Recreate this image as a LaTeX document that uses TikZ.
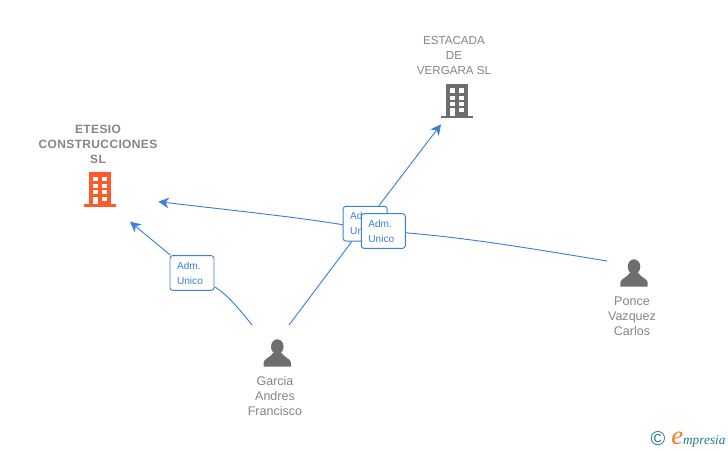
\documentclass[tikz,border=0pt]{standalone}
\usepackage{xcolor}
\usepackage{fontspec}
\setmainfont{Liberation Sans}
\newfontfamily\logofont{Liberation Serif}
\usepackage{tikz}
\usetikzlibrary{arrows.meta,backgrounds}
\definecolor{empresiaBlue}{HTML}{3B7FDD}
\definecolor{empresiaGrey}{HTML}{858585}
\definecolor{iconGrey}{HTML}{6E6E6E}
\definecolor{iconOrange}{HTML}{FF5A2B}
\definecolor{logoTeal}{HTML}{1F7A8C}
\definecolor{logoOrange}{HTML}{F57C1F}
\tikzset{
  pics/building/.style={code={
    \fill[#1] (-11,-34.7) rectangle (11,-2.7);
    \fill[#1] (-16,-2.7) rectangle (16,0);
    \foreach \wy/\wh in {-30/4.6,-22.7/4.3,-16.7/4,-10/4}{
      \fill[white] (-7,\wy) rectangle ++(4.7,\wh);
      \fill[white] (2.3,\wy) rectangle ++(5,\wh);
    }
    \fill[white] (-7,-6) rectangle (-2.3,-2.4);
  }},
  pics/person/.style={code={
    \fill[iconGrey] (0,-20) ellipse (6.3 and 7.4);
    \fill[iconGrey] (-13.7,0) -- (-13.7,-4) .. controls (-13.7,-8) and (-7,-9) .. (-4,-14) -- (4,-14) .. controls (7,-9) and (13.7,-8) .. (13.7,-4) -- (13.7,0) -- cycle;
  }}
}
\begin{document}
\begin{tikzpicture}[x=0.75pt, y=-0.75pt,
  company/.style={text=empresiaGrey, align=center, inner sep=0pt, font=\fontsize{8.7}{11.25}\selectfont},
  heading/.style={text=empresiaGrey, align=center, inner sep=0pt, font=\fontsize{9}{11.25}\selectfont\bfseries\addfontfeature{LetterSpace=3}},
  people/.style={text=empresiaGrey, align=center, inner sep=0pt, font=\fontsize{9.4}{11.25}\selectfont},
  role/.style={rectangle, rounded corners=2pt, draw=empresiaBlue, fill=white, text=empresiaBlue, line width=0.7pt, text width=22.5pt, inner xsep=5.25pt, inner ysep=0pt, minimum height=26pt, align=left, font=\fontsize{7.6}{11.25}\selectfont},
  link/.style={draw=empresiaBlue, line width=0.7pt},
  tip/.style={-{Stealth[length=8pt, width=8pt, inset=2.5pt]}}]
\useasboundingbox (0,0) rectangle (728,450);
\pic at (100,206.7) {building=iconOrange};
\pic at (456.8,118.3) {building=iconGrey};
\pic at (277.3,366.7) {person};
\pic at (634,286.7) {person};
\node[heading] (etesio) at (98,144) {ETESIO\\CONSTRUCCIONES\\SL};
\node[company] (estacada) at (454,56) {ESTACADA\\DE\\VERGARA SL};
\node[people] (garcia) at (275,396) {Garcia\\Andres\\Francisco};
\node[people] (ponce) at (632,316) {Ponce\\Vazquez\\Carlos};
\coordinate (garciaa) at (252,325);
\coordinate (garciab) at (289,325);
\coordinate (poncec) at (607,261);
\coordinate (tipa) at (130,221.7);
\coordinate (tipb) at (441,124.3);
\coordinate (tipc) at (158.3,201.7);
\node[role] (adma) at (192,273) {Adm.\\Unico};
\node[role] (admb) at (365.2,223.7) {Adm.\\Unico};
\node[role] (admc) at (383.3,231) {Adm.\\Unico};
\begin{scope}[on background layer]
\draw[link] (garciaa) .. controls (240,310) and (228,295) .. (adma);
\draw[link, tip] (adma) -- (tipa);
\draw[link] (garciab) -- (admb);
\draw[link, tip] (admb) -- (tipb);
\draw[link] (poncec) .. controls (540,250) and (470,238) .. (admc);
\draw[link, tip] (admc) .. controls (300,218) .. (tipc);
\end{scope}
\node[text=logoTeal, inner sep=0pt, font=\fontsize{15}{15}\selectfont] (copyright) at (658,438.5) {©};
\node[text=logoTeal, inner sep=0pt, anchor=base west, font=\logofont\itshape\fontsize{10}{12}\selectfont] (logo) at (671,444) {{\color{logoOrange}\fontsize{20}{20}\selectfont e}mpresia};
\end{tikzpicture}
\end{document}
